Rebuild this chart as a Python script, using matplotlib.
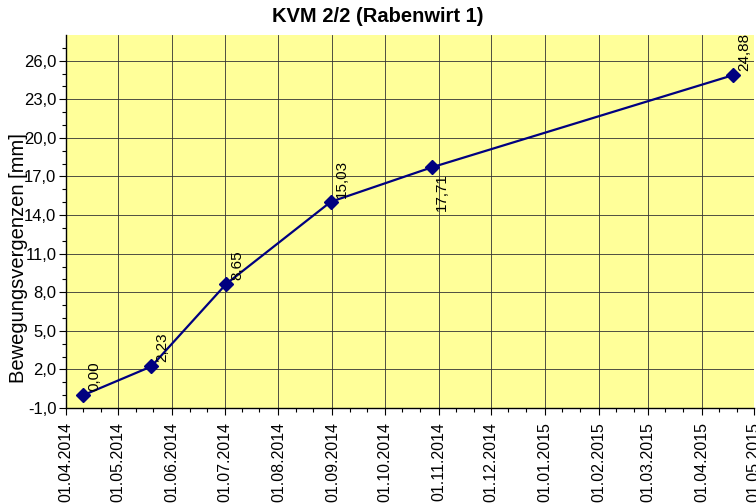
import matplotlib
matplotlib.use("Agg")
import matplotlib.pyplot as plt
import matplotlib.dates as mdates
import numpy as np
from datetime import datetime

dates = ["11.04.2014", "20.05.2014", "02.07.2014", "31.08.2014", "28.10.2014", "19.04.2015"]
values = [0.00, 2.23, 8.65, 15.03, 17.71, 24.88]
label_below = [False, False, False, False, True, False]

title = "KVM 2/2 (Rabenwirt 1)"
ylabel = "Bewegungsvergenzen [mm]"

plt.rcParams['font.family'] = ['Liberation Sans', 'DejaVu Sans']

x = [datetime.strptime(d, "%d.%m.%Y") for d in dates]

fig = plt.figure(figsize=(7.56, 5.04), dpi=100)
ax = fig.add_axes([66/756, 1-408/504, 688/756, 373/504])
ax.set_facecolor("#FFFF99")

ax.plot(x, values, color="#000080", lw=1.6, marker="D", ms=7,
        markerfacecolor="#000080", markeredgecolor="#000080", zorder=3)

for xi, v, below in zip(x, values, label_below):
    txt = f"{v:.2f}".replace(".", ",")
    if below:
        ax.annotate(txt, (xi, v), xytext=(2, -4), textcoords="offset points",
                    rotation=90, ha="left", va="top", fontsize=11)
    else:
        ax.annotate(txt, (xi, v), xytext=(3, 3), textcoords="offset points",
                    rotation=90, ha="left", va="bottom", fontsize=11)

ax.set_xlim(datetime(2014, 4, 1), datetime(2015, 5, 1))
ax.set_ylim(-1, 28)

ax.xaxis.set_major_locator(mdates.MonthLocator())
ax.xaxis.set_major_formatter(mdates.DateFormatter("%d.%m.%Y"))
ax.xaxis.set_minor_locator(mdates.DayLocator(bymonthday=[11, 21]))
ax.set_yticks(np.arange(-1, 27, 3))
ax.set_yticks(np.arange(-1, 28, 1), minor=True)
ax.yaxis.set_major_formatter(matplotlib.ticker.FuncFormatter(
    lambda v, p: f"{v:.1f}".replace(".", ",")))

ax.tick_params(axis="x", which="major", labelrotation=90, labelsize=11.5, length=5, width=0.8, pad=5)
ax.tick_params(axis="y", which="major", labelsize=12, length=5, width=0.8, pad=2)
ax.tick_params(which="minor", length=3, width=0.8)

ax.grid(True, which="major", color="#333333", lw=0.6)
ax.set_axisbelow(True)
for s in ["top", "right"]:
    ax.spines[s].set_visible(False)
ax.spines["left"].set_linewidth(1.0)
ax.spines["bottom"].set_linewidth(1.0)

fig.text(0.5, 1-17/504, title, ha="center", va="center", fontsize=14.5, fontweight="bold")
fig.text(19/756, 1-258/504, ylabel, rotation=90, ha="center", va="center", fontsize=14.5)

fig.savefig("out.png", dpi=100)
